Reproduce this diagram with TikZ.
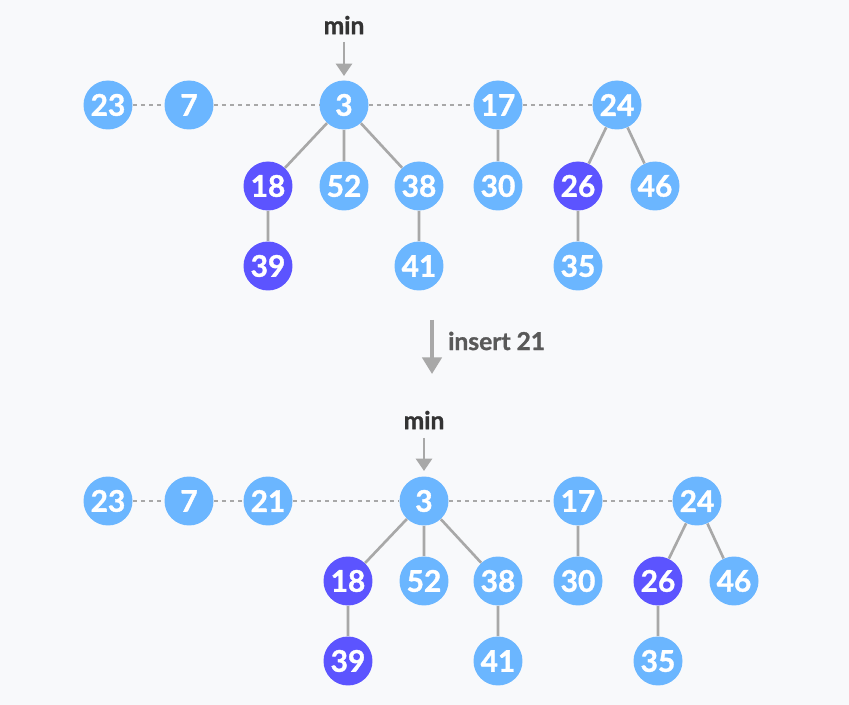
\documentclass[tikz,border=0pt]{standalone}
\usepackage{fontspec}
\setmainfont{Lato}[BoldFeatures={FakeBold=1.2}]
\usetikzlibrary{arrows.meta}

\definecolor{keyblue}{RGB}{107,182,255}
\definecolor{keypurple}{RGB}{92,84,255}
\definecolor{linegray}{RGB}{168,168,168}
\definecolor{pagebg}{RGB}{248,249,251}

\begin{document}
\begin{tikzpicture}[x=0.02cm, y=-0.02cm, font=\bfseries]

        % Setup the styles for the keys and the links
        \tikzset{key/.style={circle,
                             minimum size=0.98cm,
                             inner sep=0pt,
                             fill=keyblue,
                             text=white,
                             font=\fontsize{17}{20}\selectfont\bfseries},
                 marked/.style={key, fill=keypurple},
                 root link/.style={draw=linegray, line width=1.2pt,
                                   dash pattern=on 2.3pt off 2.3pt},
                 child link/.style={draw=linegray, line width=1.5pt},
                 pointer/.style={draw=linegray, line width=1.7pt,
                                 -{Triangle[width=9pt, length=7pt]}}}

        % Background and picture size
        \fill[pagebg] (0, 0) rectangle (849, 705);

        % Draw the heap before the insertion
        \node[key]    at (108, 105)  (a23)  {23};
        \node[key]    at (189, 105)  (a7)   {7};
        \node[key]    at (344, 105)  (a3)   {3};
        \node[key]    at (498, 105)  (a17)  {17};
        \node[key]    at (617, 105)  (a24)  {24};
        \node[marked] at (268, 186)  (a18)  {18};
        \node[key]    at (344, 186)  (a52)  {52};
        \node[key]    at (419, 186)  (a38)  {38};
        \node[key]    at (498, 186)  (a30)  {30};
        \node[marked] at (578, 186)  (a26)  {26};
        \node[key]    at (655, 186)  (a46)  {46};
        \node[marked] at (268, 266)  (a39)  {39};
        \node[key]    at (419, 266)  (a41)  {41};
        \node[key]    at (578, 266)  (a35)  {35};

        \node[font=\fontsize{14}{16}\selectfont\bfseries, text=black!80]
              at (344, 25) (amin) {min};
        \coordinate (amintop) at (344, 42);
        \coordinate (aminend) at (344, 76);
        \draw[pointer] (amintop) -- (aminend);

        \draw[root link] (a23) -- (a7) -- (a3) -- (a17) -- (a24);
        \draw[child link]
        (a3)  -- (a18)  (a3)  -- (a52)  (a3)  -- (a38)
        (a18) -- (a39)  (a38) -- (a41)  (a17) -- (a30)
        (a24) -- (a26)  (a24) -- (a46)  (a26) -- (a35);

        % The insertion step
        \coordinate (instop) at (432, 320);
        \coordinate (insend) at (432, 374);
        \draw[pointer, line width=2.2pt,
              -{Triangle[width=11pt, length=9.5pt]}] (instop) -- (insend);
        \node[font=\fontsize{14}{16}\selectfont\bfseries, text=black!65,
              anchor=west] at (442, 341) (ins) {insert 21};

        % Draw the heap after the insertion
        \node[key]    at (108, 501)  (b23)  {23};
        \node[key]    at (189, 501)  (b7)   {7};
        \node[key]    at (268, 501)  (b21)  {21};
        \node[key]    at (424, 501)  (b3)   {3};
        \node[key]    at (578, 501)  (b17)  {17};
        \node[key]    at (697, 501)  (b24)  {24};
        \node[marked] at (348, 581)  (b18)  {18};
        \node[key]    at (424, 581)  (b52)  {52};
        \node[key]    at (498, 581)  (b38)  {38};
        \node[key]    at (578, 581)  (b30)  {30};
        \node[marked] at (658, 581)  (b26)  {26};
        \node[key]    at (734, 581)  (b46)  {46};
        \node[marked] at (348, 661)  (b39)  {39};
        \node[key]    at (498, 661)  (b41)  {41};
        \node[key]    at (658, 661)  (b35)  {35};

        \node[font=\fontsize{14}{16}\selectfont\bfseries, text=black!80]
              at (424, 420) (bmin) {min};
        \coordinate (bmintop) at (424, 438);
        \coordinate (bminend) at (424, 471);
        \draw[pointer] (bmintop) -- (bminend);

        \draw[root link] (b23) -- (b7) -- (b21) -- (b3) -- (b17) -- (b24);
        \draw[child link]
        (b3)  -- (b18)  (b3)  -- (b52)  (b3)  -- (b38)
        (b18) -- (b39)  (b38) -- (b41)  (b17) -- (b30)
        (b24) -- (b26)  (b24) -- (b46)  (b26) -- (b35);
    \end{tikzpicture}
\end{document}
